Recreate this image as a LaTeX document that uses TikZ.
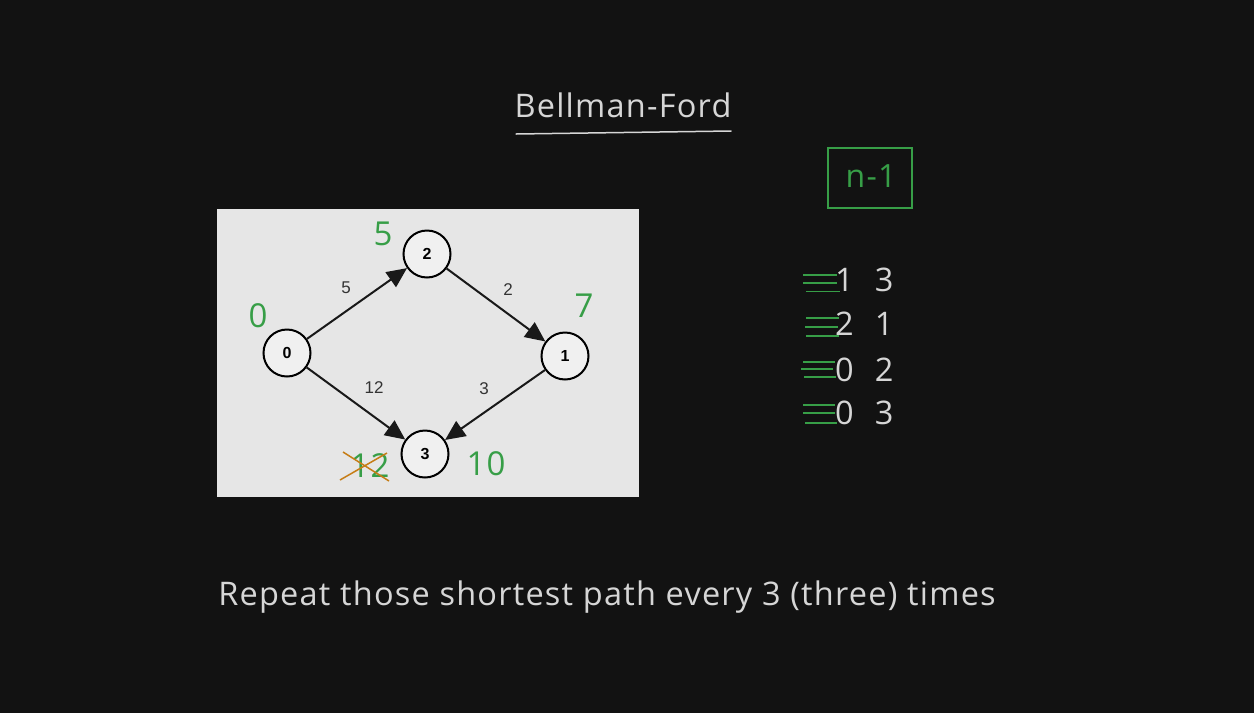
\documentclass[tikz,border=0pt]{standalone}
\usepackage{fontspec}
\setmainfont{Open Sans}[LetterSpace=3.8]
\newfontfamily\graphfont{Liberation Sans}
\usetikzlibrary{arrows.meta}
\definecolor{bg}{HTML}{121212}
\definecolor{fg}{HTML}{D6D6D6}
\definecolor{grn}{HTML}{379E47}
\definecolor{org}{HTML}{C67D16}
\definecolor{panel}{HTML}{E6E6E6}
\definecolor{nodefill}{HTML}{F0F0F0}
\tikzset{
  bigtext/.style={text=fg, font=\fontsize{32.5}{38}\selectfont, inner sep=0pt},
  greentext/.style={text=grn, font=\fontsize{33}{40}\selectfont, inner sep=0pt},
  vertex/.style={circle, draw=black, fill=nodefill, line width=2pt, minimum size=47pt, inner sep=0pt, font=\graphfont\bfseries\fontsize{16}{18}\selectfont},
  edge/.style={line width=2pt, draw=black!90, -{Triangle[length=20pt,width=18pt]}, shorten >=0pt},
  wlabel/.style={text=black!80, font=\graphfont\fontsize{17}{20}\selectfont, inner sep=0pt},
  hatch/.style={grn, line width=1.2pt},
  cross/.style={org, line width=1.5pt}
}
\begin{document}
\begin{tikzpicture}[x=1pt,y=-1pt]
\fill[bg] (0,0) rectangle (1254,713);
\useasboundingbox (0,0) rectangle (1254,713);
% title
\node[bigtext] (title) at (623,105) {Bellman-Ford};
\draw[fg, line width=1.5pt, line cap=round] (516,134) -- (731,131);
% n-1 box
\node[draw=grn, line width=1.3pt, minimum width=84pt, minimum height=60pt, inner sep=0pt] (nbox) at (870,178) {};
\node[greentext, font=\fontsize{32}{38}\selectfont] (ntext) at (871,176) {n-1};
% edge list
\node[bigtext, anchor=west] (l1) at (835,280) {1\hspace{21pt}3};
\node[bigtext, anchor=west] (l2) at (835,324) {2\hspace{21pt}1};
\node[bigtext, anchor=west] (l3) at (835,370) {0\hspace{21pt}2};
\node[bigtext, anchor=west] (l4) at (835,413) {0\hspace{21pt}3};
\draw[hatch] (803,275) -- (837,275) (803,283) -- (837,283) (806,291.5) -- (840,291.5);
\draw[hatch] (806,318) -- (839,318) (805,327) -- (838,327) (806,336) -- (839,336);
\draw[hatch] (803,362) -- (835,362) (801,369) -- (833,369) (804,377) -- (836,377);
\draw[hatch] (803,405) -- (835,405) (803,413) -- (835,413) (805,423) -- (837,423);
% panel
\fill[panel] (217,209) rectangle (639,497);
\node[vertex] (n0) at (287,353) {0};
\node[vertex] (n2) at (427,254) {2};
\node[vertex] (n1) at (565,356) {1};
\node[vertex] (n3) at (425,454) {3};
\draw[edge] (n0) -- (n2);
\draw[edge] (n2) -- (n1);
\draw[edge] (n0) -- (n3);
\draw[edge] (n1) -- (n3);
\node[wlabel] (w02) at (346,288) {5};
\node[wlabel] (w21) at (508,290) {2};
\node[wlabel] (w03) at (374,388) {12};
\node[wlabel] (w13) at (484,389) {3};
% distances
\node[greentext] (d0) at (258,316) {0};
\node[greentext] (d2) at (383,234) {5};
\node[greentext] (d1) at (584,306) {7};
\node[greentext] (d3) at (486,464) {10};
\node[greentext] (d3old) at (370,466) {12};
\draw[cross] (340,480) -- (387,453);
\draw[cross] (343,452) -- (389,481);
% bottom
\node[bigtext] (bottom) at (607,597) {Repeat those shortest path every 3 (three) times};
\end{tikzpicture}
\end{document}
